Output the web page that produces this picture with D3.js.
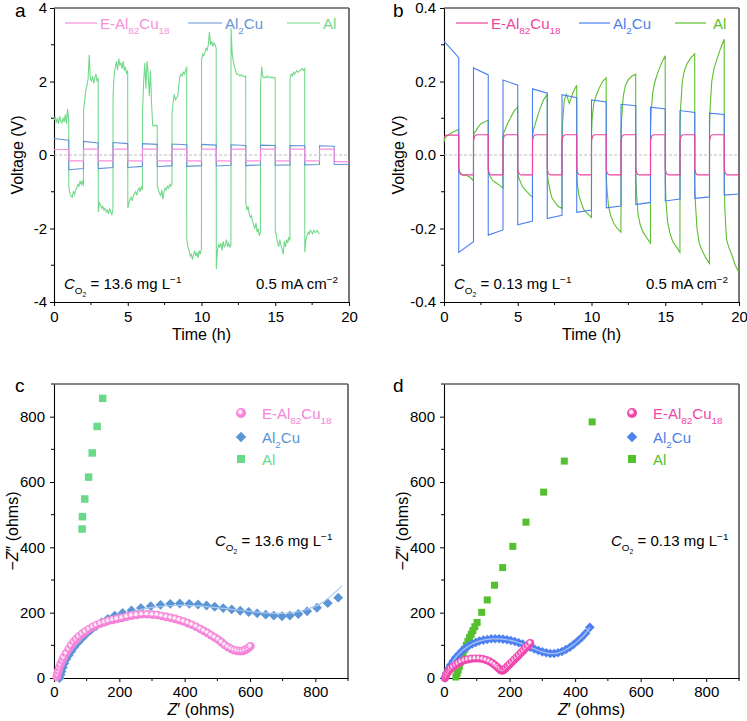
<!DOCTYPE html>
<html><head><meta charset="utf-8">
<script src="https://cdn.jsdelivr.net/npm/d3@7"></script>
<style>
body{margin:0;background:#fff}
svg{display:block}
text{font-family:"Liberation Sans",Arial,Helvetica,sans-serif}
</style>
</head><body>
<svg id="chart" width="747" height="721"></svg>
<script>
// ---------------- DATA ----------------
const seriesNames = ["E-Al82Cu18", "Al2Cu", "Al"];
const timeTicks = [0, 5, 10, 15, 20];
const timeMinor = [2.5, 7.5, 12.5, 17.5];
const aVoltTicks = [-4, -2, 0, 2, 4];
const aVoltMinor = [-3, -1, 1, 3];
const bVoltTicks = [-0.4, -0.2, 0, 0.2, 0.4];
const bVoltMinor = [-0.3, -0.1, 0.1, 0.3];
const zTicks = [0, 200, 400, 600, 800];
const zMinor = [100, 300, 500, 700, 900];

// panel a (13.6 mg/L), one value per 1-h half cycle
const aPinkLevel = [0.15,-0.16,0.16,-0.16,0.16,-0.16,0.16,-0.16,0.16,-0.16,0.16,-0.16,0.16,-0.16,0.16,-0.16,0.16,-0.16,0.16,-0.18];
const aBlueStart = [0.45,-0.40,0.37,-0.37,0.34,-0.34,0.31,-0.32,0.30,-0.31,0.29,-0.30,0.28,-0.29,0.27,-0.28,0.26,-0.27,0.25,-0.26];
const aBlueEnd   = [0.40,-0.37,0.33,-0.34,0.31,-0.31,0.29,-0.29,0.28,-0.29,0.27,-0.28,0.26,-0.27,0.26,-0.27,0.25,-0.26,0.24,-0.25];
const aGreen = [
 [0.95,1.05,0.9,0.98,0.85,1.05,0.92,0.88,1.0,0.9,1.1,0.85,1.25,0.95],
 [-0.85,-1.05,-1.12,-1.15,-1.0,-1.08,-0.95,-0.9,-0.8,-0.85,-0.72,-0.8,-0.7,-0.85],
 [1.2,1.5,1.75,1.9,2.05,2.72,2.1,2.0,2.15,1.95,2.1,2.2,2.0,2.1],
 [-1.55,-1.3,-1.35,-1.45,-1.4,-1.5,-1.45,-1.55,-1.5,-1.6,-1.45,-1.55,-1.62,-1.5],
 [1.6,2.2,2.4,2.55,2.3,2.62,2.45,2.5,2.35,2.55,2.3,2.4,2.2,2.3],
 [-1.45,-1.3,-1.2,-1.15,-1.25,-1.1,-1.05,-1.0,-1.1,-0.95,-0.9,-1.0,-0.85,-0.95],
 [1.2,2.0,2.5,1.8,2.55,2.2,1.6,2.3,1.4,0.8,0.78,0.82,0.8,0.8],
 [-0.85,-0.95,-1.05,-1.1,-0.95,-1.2,-1.0,-0.9,-0.95,-0.85,-0.9,-0.8,-0.85,-0.8],
 [1.1,1.45,1.65,1.5,1.55,1.6,1.9,2.15,2.2,2.15,2.25,2.2,2.3,2.4],
 [-2.3,-2.5,-2.6,-2.75,-2.7,-2.85,-2.7,-2.6,-2.75,-2.65,-2.8,-2.6,-2.7,-2.55],
 [2.6,2.75,2.7,2.8,2.9,2.85,3.0,3.35,3.0,3.1,2.95,3.05,3.0,2.9],
 [-3.1,-2.6,-2.45,-2.5,-2.4,-2.6,-2.35,-2.5,-2.45,-2.3,-2.5,-2.4,-2.5,-2.45],
 [3.45,2.75,2.55,2.4,2.3,2.2,2.2,2.18,2.15,2.18,2.15,2.15,2.13,2.15],
 [-1.3,-1.5,-1.4,-1.6,-1.7,-1.65,-1.8,-1.9,-2.0,-1.85,-2.1,-2.0,-2.2,-2.1],
 [1.9,2.4,2.15,2.1,2.12,2.1,2.15,2.12,2.1,2.13,2.1,2.12,2.1,2.1],
 [-2.05,-2.2,-2.4,-2.5,-2.3,-2.45,-2.55,-2.7,-2.35,-2.5,-2.3,-2.4,-2.25,-2.3],
 [2.1,2.2,2.15,2.25,2.2,2.25,2.3,2.25,2.28,2.3,2.32,2.35,2.3,2.35],
 [-2.65,-2.3,-2.2,-2.1,-2.15,-2.05,-2.1,-2.15,-2.05,-2.1,-2.1,-2.05,-2.1,-2.15]
];

// panel b (0.13 mg/L)
const bPinkLevel = [0.054,-0.054,0.055,-0.054,0.055,-0.054,0.055,-0.054,0.055,-0.054,0.055,-0.054,0.055,-0.054,0.055,-0.054,0.055,-0.054,0.055,-0.054];
const bPinkOffsets = [0, 0.06, 0.14, 0.25, 1];
const bPinkFrac = [0.85, 0.95, 0.99, 1, 1];
const bBlueStart = [0.31,-0.265,0.237,-0.218,0.204,-0.19,0.18,-0.173,0.164,-0.156,0.15,-0.144,0.138,-0.135,0.13,-0.125,0.121,-0.118,0.114,-0.109];
const bBlueEnd   = [0.265,-0.236,0.218,-0.204,0.19,-0.18,0.168,-0.164,0.156,-0.15,0.144,-0.139,0.134,-0.129,0.125,-0.12,0.116,-0.114,0.11,-0.106];
const bGreenOffsets = [0, 0.04, 0.15, 0.3, 0.5, 0.75, 1];
const bGreen = [
 [0.035,0.045,0.05,0.055,0.06,0.065,0.07],
 [-0.03,-0.045,-0.05,-0.055,-0.055,-0.06,-0.07],
 [0.05,0.06,0.065,0.075,0.085,0.09,0.095],
 [-0.04,-0.05,-0.06,-0.07,-0.075,-0.082,-0.09],
 [0.05,0.06,0.07,0.085,0.1,0.12,0.13],
 [-0.05,-0.06,-0.07,-0.085,-0.095,-0.105,-0.115],
 [0.05,0.065,0.08,0.1,0.125,0.15,0.165],
 [-0.05,-0.065,-0.09,-0.115,-0.128,-0.14,-0.145],
 [0.05,0.09,0.15,0.165,0.14,0.17,0.19],
 [-0.05,-0.08,-0.11,-0.13,-0.15,-0.16,-0.17],
 [0.06,0.1,0.14,0.16,0.18,0.2,0.21],
 [-0.06,-0.09,-0.14,-0.165,-0.185,-0.2,-0.21],
 [0.06,0.1,0.16,0.19,0.205,0.215,0.22],
 [-0.06,-0.1,-0.16,-0.19,-0.21,-0.225,-0.24],
 [0.07,0.12,0.17,0.2,0.225,0.25,0.27],
 [-0.07,-0.12,-0.18,-0.21,-0.235,-0.25,-0.265],
 [0.08,0.13,0.2,0.23,0.25,0.265,0.275],
 [-0.08,-0.13,-0.2,-0.24,-0.26,-0.28,-0.295],
 [0.08,0.13,0.2,0.235,0.26,0.29,0.315],
 [-0.08,-0.15,-0.23,-0.25,-0.27,-0.3,-0.32]
];

// panel c (Nyquist, 13.6 mg/L): [Z', -Z'']
const cPink = [[8,3],[10,12],[13,22],[16,32],[20,42],[25,53],[30,63],[37,76],[45,89],[52,100],[60,111],[68,119],[76,127],[86,135],[96,142],[107,150],[119,157],[130,162],[142,167],[155,171],[167,175],[180,178],[193,181],[208,184],[223,188],[238,191],[253,193],[269,195],[285,195],[301,194],[316,193],[330,190],[344,187],[358,184],[371,181],[384,177],[397,173],[410,168],[422,163],[435,157],[448,150],[459,144],[470,138],[481,131],[492,124],[503,117],[513,109],[523,101],[533,94],[543,89],[552,85],[561,83],[570,82],[578,83],[586,86],[594,91],[601,97]];
const cBlue = [[17,0],[20,10],[23,20],[27,32],[32,45],[38,58],[45,70],[53,82],[62,95],[72,107],[84,120],[97,133],[112,146],[128,158],[146,170],[165,181],[186,191],[210,199],[237,207],[266,214],[296,220],[326,224],[356,227],[385,228],[414,227],[441,225],[467,222],[492,218],[518,214],[544,210],[570,206],[596,202],[622,198],[648,194],[673,191],[698,189],[722,191],[748,196],[775,204],[805,215],[838,229],[870,246]];
const cGreen = [[86,456],[87,494],[94,548],[106,615],[117,689],[132,770],[149,856]];
const cBlueFit = [[17,0],[25,30],[40,62],[60,92],[90,124],[130,155],[180,182],[240,203],[300,216],[370,222],[440,221],[520,213],[600,204],[670,198],[720,199],[770,209],[820,230],[860,262],[882,283]];

// panel d (Nyquist, 0.13 mg/L)
const dPink = [[3,0],[6,8],[10,15],[15,22],[20,28],[27,34],[35,40],[43,45],[52,50],[62,54],[72,57],[83,59],[95,60],[107,60],[118,58],[128,55],[138,51],[147,46],[155,40],[162,34],[168,28],[173,24],[178,22],[183,25],[188,30],[194,36],[200,42],[207,49],[214,56],[221,63],[228,70],[235,77],[242,84],[249,92],[256,99],[263,107]];
const dBlue = [[3,0],[8,15],[14,28],[20,40],[28,52],[36,63],[45,73],[55,83],[65,91],[75,98],[86,104],[97,109],[108,113],[120,116],[132,118],[144,120],[156,120],[168,120],[180,119],[192,117],[204,115],[216,112],[228,108],[240,104],[252,99],[264,94],[276,89],[288,84],[300,80],[312,77],[324,75],[336,75],[348,77],[360,81],[372,87],[384,94],[396,103],[408,113],[420,124],[432,137],[445,155]];
const dGreen = [[36,3],[40,14],[43,24],[47,36],[50,49],[54,62],[58,75],[63,88],[68,100],[73,112],[78,124],[83,134],[88,145],[94,157],[101,170],[115,201],[132,239],[154,284],[179,338],[210,403],[250,477],[304,569],[367,664],[452,784]];

// ---------------- STYLE ----------------
const colA = {pink:"#f78fdc", blue:"#6494d4", green:"#72d98b"};
const colB = {pink:"#f0429f", blue:"#4a7ff0", green:"#5bbf2e"};
const colC = {pink:"#f583d9", blue:"#5b95d5", green:"#6ad98a"};
const colD = {pink:"#f046ad", blue:"#4d80f0", green:"#55c02f"};

const svg = d3.select("#chart");
const defs = svg.append("defs");
function sphereGrad(id, col){
  const g = defs.append("radialGradient").attr("id", id).attr("cx","42%").attr("cy","40%").attr("r","60%");
  g.append("stop").attr("offset","0%").attr("stop-color","#fff");
  g.append("stop").attr("offset","22%").attr("stop-color","#fde8f7");
  g.append("stop").attr("offset","55%").attr("stop-color",col);
  g.append("stop").attr("offset","100%").attr("stop-color",col);
}
sphereGrad("gc", colC.pink);
sphereGrad("gd", colD.pink);

function rich(g, x, y, parts, o){
  const size = o.size;
  const t = g.append("text").attr("x", x).attr("y", y).attr("font-size", size)
    .attr("fill", o.fill || "#000").attr("text-anchor", o.anchor || "start");
  const spec = {n:{s:1,o:0}, i:{s:1,o:0,it:1}, sub:{s:0.66,o:0.32}, sup:{s:0.66,o:-0.42}, ss:{s:0.45,o:0.5}};
  let prev = 0;
  parts.forEach(([txt,k]) => {
    const sp = spec[k]; const off = sp.o*size;
    t.append("tspan").text(txt).attr("font-size", sp.s*size).attr("dy", off-prev)
      .attr("font-style", sp.it ? "italic" : null);
    prev = off;
  });
  return t;
}
const nameParts = [
  [["E-Al","n"],["82","sub"],["Cu","n"],["18","sub"]],
  [["Al","n"],["2","sub"],["Cu","n"]],
  [["Al","n"]]
];

function panel(o){
  const g = svg.append("g").attr("transform", `translate(${o.left},${o.top})`);
  const x = d3.scaleLinear().domain(o.xd).range([0, o.w]);
  const y = d3.scaleLinear().domain(o.yd).range([o.h, 0]);
  g.append("line").attr("x1",0).attr("x2",o.w).attr("y1",0).attr("y2",0).attr("stroke","#111").attr("stroke-width",1);
  g.append("line").attr("x1",o.w).attr("x2",o.w).attr("y1",0).attr("y2",o.h).attr("stroke","#555").attr("stroke-width",1.6);
  const xa = g.append("g").attr("transform",`translate(0,${o.h})`)
    .call(d3.axisBottom(x).tickValues(o.xt).tickSize(4).tickSizeOuter(0).tickPadding(o.xpad).tickFormat(o.xf));
  const ya = g.append("g")
    .call(d3.axisLeft(y).tickValues(o.yt).tickSize(4).tickSizeOuter(0).tickPadding(o.ypad).tickFormat(o.yf));
  [xa, ya].forEach(a => {
    a.select(".domain").attr("stroke","#000").attr("stroke-width",1.1);
    a.selectAll(".tick line").attr("stroke","#000");
    a.selectAll("text").attr("font-size",15).attr("fill","#000").attr("font-family",'"Liberation Sans",Arial,sans-serif');
  });
  g.selectAll(".mxt").data(o.xm).join("line").attr("x1",d=>x(d)).attr("x2",d=>x(d)).attr("y1",o.h).attr("y2",o.h+3).attr("stroke","#000");
  g.selectAll(".myt").data(o.ym).join("line").attr("y1",d=>y(d)).attr("y2",d=>y(d)).attr("x1",0).attr("x2",-3).attr("stroke","#000");
  return {g, x, y};
}

// ---------------- PANELS A, B ----------------
function buildSquare(level){ const p=[]; level.forEach((L,k)=>{p.push([k,L]);p.push([k+1,L]);}); return p; }
function buildRamp(s,e){ const p=[]; s.forEach((v,k)=>{p.push([k,v]);p.push([k+1,e[k]]);}); return p; }
function buildNoisy(segs){ const p=[]; segs.forEach((vals,k)=>{ const n=vals.length; vals.forEach((v,i)=>p.push([k+0.004+i*(0.992/(n-1)),v])); }); return p; }

function voltagePanel(o, cols, data, label){
  const {g,x,y} = panel(o);
  g.append("line").attr("x1",0).attr("x2",o.w).attr("y1",y(0)).attr("y2",y(0))
    .attr("stroke","#b5b5b5").attr("stroke-width",0.9).attr("stroke-dasharray","3,2");
  const line = d3.line().x(d=>x(d[0])).y(d=>y(d[1]));
  g.append("path").datum(data.green).attr("d",line).attr("fill","none").attr("stroke",cols.green).attr("stroke-width",1.1);
  g.append("path").datum(data.blue).attr("d",line).attr("fill","none").attr("stroke",cols.blue).attr("stroke-width",1.1);
  g.append("path").datum(data.pink).attr("d",line).attr("fill","none").attr("stroke",cols.pink).attr("stroke-width",1.1);
  const cl = [cols.pink, cols.blue, cols.green];
  o.leg.forEach((L,i)=>{
    g.append("line").attr("x1",L[0]).attr("x2",L[1]).attr("y1",15).attr("y2",15).attr("stroke",cl[i]).attr("stroke-width",1.2);
    rich(g, L[2], 21, nameParts[i], {size:15, fill:cl[i]});
  });
  rich(g, 10, o.h-13, [["C","i"],["O","sub"],["2","ss"],[" = "+label+" mg L","n"],["\u22121","sup"]], {size:15});
  rich(g, o.w-11, o.h-13, [["0.5 mA cm","n"],["\u22122","sup"]], {size:15, anchor:"end"});
  g.append("text").attr("x",o.w/2).attr("y",o.h+38).attr("text-anchor","middle").attr("font-size",16).text("Time (h)");
  g.append("text").attr("transform",`translate(${o.ylabX},${o.h/2}) rotate(-90)`).attr("text-anchor","middle").attr("font-size",16).text("Voltage (V)");
  g.append("text").attr("x",o.letX).attr("y",9).attr("font-size",19).text(o.letter);
}

const bPinkPts = [];
bPinkLevel.forEach((L,k)=>{ const prev = k===0 ? 0 : bPinkLevel[k-1];
  bPinkOffsets.forEach((off,i)=>bPinkPts.push([k+off*0.999, prev + bPinkFrac[i]*(L-prev)])); });
const bGreenPts = [];
bGreen.forEach((vals,k)=>vals.forEach((v,i)=>bGreenPts.push([k+0.004+bGreenOffsets[i]*0.992, v])));

voltagePanel({left:54,top:8,w:295,h:294,xd:[0,20],yd:[-4,4],xt:timeTicks,xm:timeMinor,yt:aVoltTicks,ym:aVoltMinor,
  xpad:5,ypad:3,xf:d3.format("d"),yf:d=>String(d),leg:[[11,43,46],[134,168,171],[233,266,269]],ylabX:-31,letX:-39,letter:"a"},
  colA, {pink:buildSquare(aPinkLevel), blue:buildRamp(aBlueStart,aBlueEnd), green:buildNoisy(aGreen)}, "13.6");

voltagePanel({left:444,top:8,w:295,h:294,xd:[0,20],yd:[-0.4,0.4],xt:timeTicks,xm:timeMinor,yt:bVoltTicks,ym:bVoltMinor,
  xpad:5,ypad:4,xf:d3.format("d"),yf:d=>d3.format(".1f")(d).replace("\u2212","-"),leg:[[12,44,47],[135,166,169],[231,262,269]],ylabX:-40,letX:-51,letter:"b"},
  colB, {pink:bPinkPts, blue:buildRamp(bBlueStart,bBlueEnd), green:bGreenPts}, "0.13");

// ---------------- PANELS C, D ----------------
function nyquist(o, cols, data, label, grad){
  const {g,x,y} = panel(o);
  const line = d3.line().x(d=>x(d[0])).y(d=>y(d[1])).curve(d3.curveCatmullRom);
  g.selectAll(".sq").data(data.green).join("rect")
    .attr("x",d=>x(d[0])-o.sq/2).attr("y",d=>y(d[1])-o.sq/2).attr("width",o.sq).attr("height",o.sq).attr("fill",cols.green);
  const dia = d3.symbol().type(d3.symbolDiamond2).size(o.di);
  g.selectAll(".di").data(data.blue).join("path").attr("d",dia)
    .attr("transform",d=>`translate(${x(d[0])},${y(d[1])})`).attr("fill",cols.blue);
  g.append("path").datum(data.blueFit).attr("d",line).attr("fill","none").attr("stroke",o.blueFitCol).attr("stroke-width",1.2);
  g.selectAll(".ci").data(data.pink).join("circle").attr("cx",d=>x(d[0])).attr("cy",d=>y(d[1])).attr("r",o.r)
    .attr("fill",`url(#${grad})`);
  g.append("path").datum(data.pink).attr("d",line).attr("fill","none").attr("stroke","rgba(255,255,255,0.5)").attr("stroke-width",1);
  const lx = o.legX;
  g.append("circle").attr("cx",lx).attr("cy",29).attr("r",5).attr("fill",`url(#${grad})`);
  g.append("path").attr("d",d3.symbol().type(d3.symbolDiamond2).size(70)).attr("transform",`translate(${lx},53)`).attr("fill",cols.blue);
  g.append("rect").attr("x",lx-4).attr("y",71).attr("width",8).attr("height",8).attr("fill",cols.green);
  const cl=[cols.pink,cols.blue,cols.green];
  [35,59,81].forEach((yy,i)=>rich(g, lx+21, yy, nameParts[i], {size:15, fill:cl[i]}));
  rich(g, o.annX, 162, [["C","i"],["O","sub"],["2","ss"],[" = "+label+" mg L","n"],["\u22121","sup"]], {size:15});
  rich(g, o.w/2, o.h+37, [["Z","i"],["\u2032 (ohms)","n"]], {size:16, anchor:"middle"});
  const yl = g.append("g").attr("transform",`translate(${o.ylabX},${o.h/2}) rotate(-90)`);
  rich(yl, 0, 0, [["\u2212","n"],["Z","i"],["\u2033 (ohms)","n"]], {size:16, anchor:"middle"});
  g.append("text").attr("x",o.letX).attr("y",8).attr("font-size",19).text(o.letter);
}

nyquist({left:54,top:384,w:294,h:294,xd:[0,900],yd:[0,900],xt:zTicks,xm:zMinor,yt:zTicks,ym:zMinor,
  xpad:4,ypad:5,xf:d3.format("d"),yf:d3.format("d"),sq:7.5,di:62,r:4.3,legX:187,annX:161,ylabX:-36,letX:-39,letter:"c",blueFitCol:"#a9c9ef"},
  colC, {pink:cPink, blue:cBlue, green:cGreen, blueFit:cBlueFit}, "13.6", "gc");

nyquist({left:444,top:384,w:295,h:294,xd:[0,900],yd:[0,900],xt:zTicks,xm:zMinor,yt:zTicks,ym:zMinor,
  xpad:4,ypad:5,xf:d3.format("d"),yf:d3.format("d"),sq:7,di:58,r:4,legX:188,annX:167,ylabX:-36,letX:-51,letter:"d",blueFitCol:"rgba(200,215,250,0.8)"},
  colD, {pink:dPink, blue:dBlue, green:dGreen, blueFit:dBlue}, "0.13", "gd");
</script>
</body></html>
